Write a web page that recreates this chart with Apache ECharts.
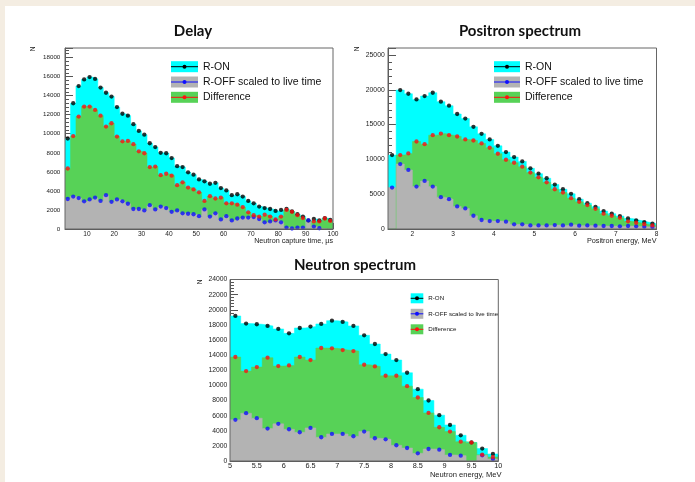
<!DOCTYPE html>
<html>
<head>
<meta charset="utf-8">
<script src="https://cdn.jsdelivr.net/npm/echarts@6/dist/echarts.min.js"></script>
<style>
    html, body { margin: 0; padding: 0; background: #f4ede2; }
    #card { position: absolute; left: 5px; top: 6px; right: 0; bottom: 0; background: #fff; }
    #chart { position: absolute; left: 0; top: 0; width: 695px; height: 482px; }
</style>
</head>
<body>
<div id="card"></div>
<div id="chart"></div>
<script>
// Delay: bins of 2 us from 2 to 100
const delayLow = 2, delayWidth = 2;
const delayOn = [9500, 13200, 15000, 15700, 15950, 15750, 14850, 14300, 13900, 12800,
    12100, 11900, 11000, 10300, 9900, 9000, 8600, 8000, 7950, 7450,
    6600, 6500, 5950, 5700, 5200, 5000, 4750, 4850, 4300, 4050,
    3550, 3650, 3400, 2950, 2700, 2350, 2200, 2100, 1900, 2000,
    2100, 1850, 1550, 1300, 900, 1050, 900, 1150, 950];
const delayOff = [3150, 3400, 3250, 2900, 3100, 3300, 2950, 3550, 2850, 3100,
    2900, 2650, 2100, 2100, 1950, 2500, 2050, 2350, 2200, 1800,
    1950, 1650, 1600, 1550, 1350, 2050, 1300, 1650, 1000, 1350,
    900, 1100, 1200, 1200, 1250, 1050, 700, 800, 900, 700,
    150, 50, 150, 150, 900, 250, 80, 0, 0];
const delayDiff = [6350, 9750, 11800, 12850, 12850, 12500, 11900, 10750, 11100, 9700,
    9200, 9250, 8900, 8150, 7950, 6500, 6550, 5650, 5800, 5600,
    4600, 4900, 4350, 4150, 3850, 2950, 3450, 3200, 3300, 2700,
    2700, 2550, 2300, 1750, 1450, 1300, 1500, 1300, 1000, 1300,
    2000, 1800, 1450, 1150, 0, 800, 800, 1100, 850];

// Positron spectrum: bins of 0.2 MeV from 1.4 to 8
const posLow = 1.4, posWidth = 0.2;
const posOn = [10620, 19950, 19430, 18620, 19100, 19570, 18290, 17710, 16520, 15860,
    14670, 13670, 12860, 11950, 11050, 10330, 9710, 8710, 7950, 7290,
    6380, 5710, 5050, 4290, 3710, 3190, 2570, 2190, 1860, 1520,
    1240, 1000, 760];
const posOff = [5950, 9330, 8480, 6100, 6900, 6100, 4570, 4290, 3240, 2950,
    1900, 1290, 1140, 1140, 1050, 670, 670, 520, 520, 520,
    570, 520, 620, 480, 520, 480, 430, 430, 380, 430,
    380, 330, 290];
const posDiff = [0, 10620, 10860, 12570, 12190, 13480, 13710, 13480, 13290, 12860,
    12710, 12290, 11670, 10810, 9950, 9520, 8950, 8100, 7430, 6710,
    5710, 5240, 4430, 3900, 3430, 2900, 2200, 1900, 1600, 1100,
    900, 700, 520];

// Neutron spectrum: bins of 0.2 MeV from 5 to 10
const neuLow = 5, neuWidth = 0.2;
const neuOn = [19180, 18170, 18080, 17860, 17460, 16880, 17590, 17770, 18120, 18560,
    18390, 17860, 16620, 15470, 14140, 13350, 11670, 9500, 8000, 6060,
    4770, 3400, 2450, 1640, 930];
const neuOff = [5440, 6320, 5660, 4290, 4910, 4200, 3800, 4380, 3140, 3580,
    3580, 3270, 3890, 3010, 2870, 2080, 1720, 1020, 1590, 1500,
    800, 710, 0, 750, 270];
const neuDiff = [13750, 11890, 12420, 13660, 12550, 12640, 13750, 13350, 14940, 14900,
    14670, 14540, 12730, 12510, 11270, 11270, 9900, 8400, 6360, 4460,
    3890, 2560, 2430, 840, 530];

const legendNames = ["R-ON", "R-OFF scaled to live time", "Difference"];
const fillColors = ["#00ffff", "#b3b3b3", "#57d257"];
const markColors = ["#000000", "#1010ff", "#ff1010"];

const labelFont = "Liberation Sans";

// step points at bin edges, last bin closed at the high edge
function histSteps(low, width, vals) {
    let pts = vals.map((v, i) => [low + i * width, v]);
    pts.push([low + vals.length * width, vals[vals.length - 1]]);
    return pts;
}

function binCenters(low, width, vals) {
    return vals.map((v, i) => [low + (i + 0.5) * width, v]).filter(p => p[1] > 0);
}

function panelSeries(xIdx, yIdx, low, width, on, off, diff) {
    let fills = [[on, 0], [diff, 2], [off, 1]].map(([vals, c]) => ({
        type: "line",
        name: legendNames[c],
        xAxisIndex: xIdx,
        yAxisIndex: yIdx,
        step: "end",
        symbol: "none",
        silent: true,
        data: histSteps(low, width, vals),
        lineStyle: { color: fillColors[c], width: 0.5 },
        areaStyle: { color: fillColors[c], opacity: 1 },
        z: 2
    }));
    let marks = [[on, 0], [off, 1], [diff, 2]].map(([vals, c]) => ({
        type: "scatter",
        name: legendNames[c],
        xAxisIndex: xIdx,
        yAxisIndex: yIdx,
        symbol: "circle",
        symbolSize: 4.3,
        silent: true,
        data: binCenters(low, width, vals),
        itemStyle: { color: markColors[c] },
        z: 4
    }));
    return fills.concat(marks);
}

const plain = v => String(v);

function mainX(grid, min, max, extra) {
    return Object.assign({
        type: "value", gridIndex: grid, min: min, max: max, position: "bottom",
        axisLine: { show: true, onZero: false, lineStyle: { color: "#555", width: 1 } },
        axisTick: { show: true, inside: true, length: 6, lineStyle: { color: "#555" } },
        axisLabel: { fontSize: 6.6, color: "#222", margin: 2, fontFamily: labelFont, showMinLabel: false, formatter: plain },
        splitLine: { show: false }
    }, extra);
}

function minorX(grid, min, max, interval) {
    return {
        type: "value", gridIndex: grid, min: min, max: max, interval: interval, position: "bottom",
        axisLine: { show: false },
        axisTick: { show: true, inside: true, length: 3, lineStyle: { color: "#555" } },
        axisLabel: { show: false },
        splitLine: { show: false }
    };
}

function mainY(grid, max, interval, fontSize, margin, showMax) {
    return {
        type: "value", gridIndex: grid, min: 0, max: max, interval: interval,
        axisLine: { show: true, onZero: false, lineStyle: { color: "#555", width: 1 } },
        axisTick: { show: true, inside: true, length: 8, lineStyle: { color: "#555" } },
        minorTick: { show: true, splitNumber: 5, length: 4, lineStyle: { color: "#555" } },
        axisLabel: { fontSize: fontSize, color: "#222", margin: margin, fontFamily: labelFont, showMaxLabel: showMax, formatter: plain },
        splitLine: { show: false },
        minorSplitLine: { show: false }
    };
}

function legendBlock(x, y0, gap, w, h, fontSize) {
    let items = [];
    legendNames.forEach((name, i) => {
        let cy = y0 + i * gap;
        items.push({ type: "rect", shape: { x: x, y: cy - h / 2, width: w, height: h }, style: { fill: fillColors[i] }, z: 10 });
        items.push({ type: "line", shape: { x1: x, y1: cy, x2: x + w, y2: cy }, style: { stroke: markColors[i], lineWidth: 1 }, z: 11 });
        items.push({ type: "circle", shape: { cx: x + w / 2, cy: cy, r: 2 }, style: { fill: markColors[i] }, z: 12 });
        items.push({
            type: "text", x: x + w + 5, y: cy, z: 12,
            style: { text: name, fill: "#111", fontSize: fontSize, fontFamily: labelFont, verticalAlign: "middle" }
        });
    });
    return items;
}

function axisTitle(x, y, text, fontSize) {
    return {
        type: "text", x: x, y: y, z: 12,
        style: { text: text, fill: "#222", fontSize: fontSize, fontFamily: labelFont, align: "right", verticalAlign: "middle" }
    };
}

function yTitle(x, y) {
    return {
        type: "text", x: x, y: y, rotation: Math.PI / 2, z: 12,
        style: { text: "N", fill: "#222", fontSize: 6.5, fontFamily: labelFont, align: "center", verticalAlign: "middle" }
    };
}

const titleStyle = { fontSize: 15, fontWeight: "bold", fontFamily: "Lato", color: "#111" };

let chart = echarts.init(document.getElementById("chart"), null, { renderer: "canvas" });

let option = {
    animation: false,
    backgroundColor: "transparent",
    title: [
        { text: "Delay", left: 193, top: 24, textAlign: "center", padding: 0, textStyle: titleStyle },
        { text: "Positron spectrum", left: 520, top: 24, textAlign: "center", padding: 0, textStyle: titleStyle },
        { text: "Neutron spectrum", left: 355, top: 257.5, textAlign: "center", padding: 0, textStyle: titleStyle }
    ],
    grid: [
        { left: 65, top: 48, width: 268, height: 181, show: true, borderColor: "#666", borderWidth: 1, backgroundColor: "transparent", z: 5 },
        { left: 388, top: 48, width: 268.5, height: 181, show: true, borderColor: "#666", borderWidth: 1, backgroundColor: "transparent", z: 5 },
        { left: 230, top: 279.5, width: 268.3, height: 181.5, show: true, borderColor: "#666", borderWidth: 1, backgroundColor: "transparent", z: 5 }
    ],
    xAxis: [
        mainX(0, 2, 100, { splitNumber: 10 }),
        minorX(0, 2, 100, 2),
        mainX(1, 1.4, 8, { splitNumber: 6 }),
        minorX(1, 1.4, 8, 0.2),
        mainX(2, 5, 10, {
            interval: 0.5,
            minorTick: { show: true, splitNumber: 5, length: 3, lineStyle: { color: "#555" } },
            axisLabel: { fontSize: 7.3, color: "#222", margin: 1.5, fontFamily: labelFont, formatter: plain }
        })
    ],
    yAxis: [
        mainY(0, 19000, 2000, 6.2, 4.7, false),
        mainY(1, 26000, 5000, 6.8, 3.3, false),
        mainY(2, 24000, 2000, 6.8, 2.7, true)
    ],
    series: []
        .concat(panelSeries(0, 0, delayLow, delayWidth, delayOn, delayOff, delayDiff))
        .concat(panelSeries(2, 1, posLow, posWidth, posOn, posOff, posDiff))
        .concat(panelSeries(4, 2, neuLow, neuWidth, neuOn, neuOff, neuDiff)),
    graphic: []
        .concat(legendBlock(171, 66.7, 15.3, 27, 11, 10.5))
        .concat(legendBlock(494, 66.7, 15.3, 26, 11, 10.5))
        .concat(legendBlock(410.7, 298.3, 15.5, 12.6, 10, 6.2))
        .concat([
            axisTitle(333, 241.5, "Neutron capture time, µs", 7.2),
            axisTitle(656.5, 241, "Positron energy, MeV", 7.3),
            axisTitle(501.5, 475, "Neutron energy, MeV", 7.6),
            yTitle(33, 49),
            yTitle(357, 49),
            yTitle(200, 282)
        ])
};

chart.setOption(option);
</script>
</body>
</html>
